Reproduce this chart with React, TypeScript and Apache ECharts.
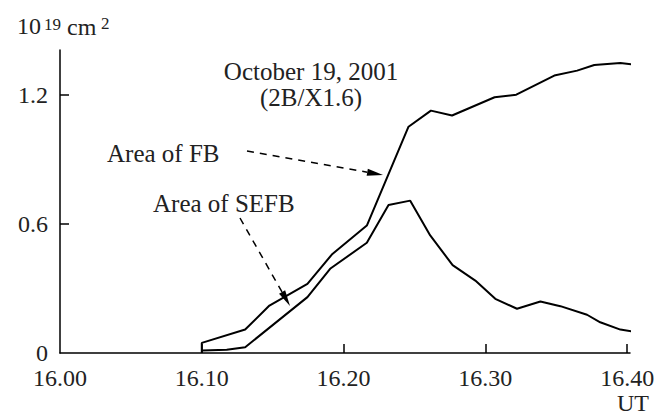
import React, { useEffect, useRef } from "react";
import * as echarts from "echarts";

// Area of FB (flare brightening), 10^19 cm^2, vs UT
const fbTime = [16.1, 16.1, 16.1306, 16.1477, 16.1745, 16.1917, 16.2164, 16.2458, 16.2616, 16.2765, 16.3065, 16.3218, 16.3486, 16.3647, 16.3768, 16.3952, 16.4039];
const fbArea = [0, 0.047, 0.109, 0.221, 0.322, 0.458, 0.593, 1.053, 1.128, 1.105, 1.19, 1.202, 1.291, 1.314, 1.34, 1.35, 1.343];

// Area of SEFB
const sefbTime = [16.1, 16.1176, 16.1306, 16.1745, 16.1905, 16.2164, 16.2317, 16.247, 16.2611, 16.2769, 16.2929, 16.307, 16.3223, 16.3388, 16.3529, 16.3717, 16.381, 16.3952, 16.4034];
const sefbArea = [0.012, 0.015, 0.027, 0.26, 0.392, 0.513, 0.689, 0.709, 0.547, 0.409, 0.337, 0.252, 0.206, 0.24, 0.218, 0.178, 0.143, 0.109, 0.101];

const xLabelValues = [16.0, 16.1, 16.2, 16.3, 16.4];
const xTickValues = [16.1, 16.2, 16.3, 16.4];
const yLabelValues = [0, 0.6, 1.2];
const yTickValues = [0.6, 1.2];

const FONT = "Liberation Serif";
const TXT = "#222";

function arrow(x1: number, y1: number, x2: number, y2: number) {
  const dx = x2 - x1;
  const dy = y2 - y1;
  const len = Math.sqrt(dx * dx + dy * dy);
  const ux = dx / len;
  const uy = dy / len;
  const hl = 16;
  const hw = 3.5;
  const bx = x2 - ux * hl;
  const by = y2 - uy * hl;
  return [
    {
      type: "line",
      shape: { x1, y1, x2: bx, y2: by },
      style: { stroke: "#000", lineWidth: 1.5, lineDash: [7, 6] },
    },
    {
      type: "polygon",
      shape: {
        points: [
          [x2, y2],
          [bx - uy * hw, by + ux * hw],
          [bx + uy * hw, by - ux * hw],
        ],
      },
      style: { fill: "#000" },
    },
  ];
}

function txt(text: string, x: number, y: number, size: number, align = "left", lineHeight?: number) {
  return {
    type: "text",
    x,
    y,
    style: {
      text,
      fontFamily: FONT,
      fontSize: size,
      lineHeight: lineHeight ?? size,
      fill: TXT,
      align,
      verticalAlign: "middle",
    },
  };
}

export default function App() {
  const ref = useRef<HTMLDivElement>(null);
  useEffect(() => {
    if (!ref.current) return;
    const chart = echarts.init(ref.current, undefined, { renderer: "svg" });
    chart.setOption({
      animation: false,
      backgroundColor: "#fff",
      textStyle: { fontFamily: FONT },
      grid: { left: 60, right: 38, top: 50, bottom: 65 },
      xAxis: {
        type: "value",
        min: 16.0,
        max: 16.402,
        splitLine: { show: false },
        axisLine: { lineStyle: { color: "#000", width: 1.5 } },
        axisTick: {
          inside: true,
          length: 9,
          customValues: xTickValues,
          lineStyle: { color: "#000", width: 1.5 },
        },
        axisLabel: {
          customValues: xLabelValues,
          formatter: (v: number) => v.toFixed(2),
          fontFamily: FONT,
          fontSize: 24,
          color: TXT,
          margin: 13,
        },
      },
      yAxis: {
        type: "value",
        min: 0,
        max: 1.41,
        splitLine: { show: false },
        axisLine: { show: true, lineStyle: { color: "#000", width: 1.5 } },
        axisTick: {
          show: true,
          inside: true,
          length: 9,
          customValues: yTickValues,
          lineStyle: { color: "#000", width: 1.5 },
        },
        axisLabel: {
          customValues: yLabelValues,
          formatter: (v: number) => (v === 0 ? "0" : v.toFixed(1)),
          fontFamily: FONT,
          fontSize: 24,
          lineHeight: 20,
          color: TXT,
          margin: 12,
        },
      },
      series: [
        {
          type: "line",
          name: "Area of FB",
          data: fbTime.map((t, i) => [t, fbArea[i]]),
          showSymbol: false,
          clip: false,
          lineStyle: { color: "#000", width: 2 },
        },
        {
          type: "line",
          name: "Area of SEFB",
          data: sefbTime.map((t, i) => [t, sefbArea[i]]),
          showSymbol: false,
          clip: false,
          lineStyle: { color: "#000", width: 2 },
        },
      ],
      graphic: [
        txt("10", 17, 26, 24),
        txt("19", 44, 24, 17),
        txt("cm", 67, 27, 24),
        txt("2", 101, 23, 17),
        txt("UT", 633, 403, 24, "center"),
        txt("October 19, 2001", 311, 71, 25, "center", 22),
        txt("(2B/X1.6)", 311, 97, 25, "center", 22),
        txt("Area of FB", 107, 153, 25),
        txt("Area of SEFB", 153, 203, 25),
        ...arrow(247, 151, 383, 175),
        ...arrow(240, 218, 290, 306),
      ],
    });
    return () => chart.dispose();
  }, []);
  return (
    <div
      ref={ref}
      style={{ position: "fixed", left: 0, top: 0, width: 668, height: 418 }}
    />
  );
}
